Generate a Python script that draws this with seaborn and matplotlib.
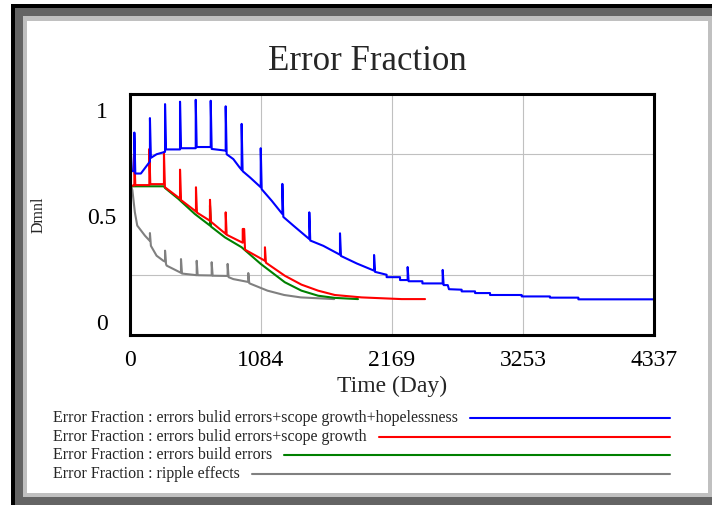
import matplotlib
matplotlib.use("Agg")
import matplotlib.pyplot as plt
from matplotlib.patches import Rectangle
from matplotlib.lines import Line2D
from matplotlib.transforms import ScaledTranslation
import pandas as pd
import seaborn as sns

# ---- simulation output (time in days, error fraction in dmnl) ----
t_hope = [0, 8, 16, 36, 36, 44, 90, 120, 165, 165, 173, 220, 290, 290, 298,
          414, 414, 422, 544, 544, 552, 668, 668, 676, 792, 792, 800, 855,
          906, 924, 924, 932, 993, 1082, 1082, 1090, 1173, 1261, 1261, 1269,
          1352, 1484, 1484, 1492, 1600, 1738, 1738, 1746, 1876, 2020, 2020,
          2028, 2124, 2124, 2235, 2235, 2298, 2298, 2306, 2420, 2420, 2588,
          2588, 2596, 2630, 2640, 2745, 2745, 2856, 2856, 2980, 2980, 3242,
          3242, 3476, 3476, 3711, 3711, 4337]
v_hope = [0.38, 0.75, 0.68, 0.68, 0.84, 0.67, 0.67, 0.69, 0.72, 0.90, 0.735,
          0.75, 0.76, 0.958, 0.77, 0.77, 0.968, 0.775, 0.775, 0.976, 0.78,
          0.78, 0.972, 0.772, 0.765, 0.949, 0.75, 0.73, 0.696, 0.685, 0.876,
          0.68, 0.654, 0.613, 0.775, 0.605, 0.557, 0.502, 0.627, 0.49, 0.454,
          0.398, 0.509, 0.392, 0.37, 0.333, 0.422, 0.328, 0.297, 0.267, 0.332,
          0.262, 0.25, 0.24, 0.24, 0.228, 0.228, 0.282, 0.223, 0.223, 0.214,
          0.214, 0.27, 0.207, 0.207, 0.19, 0.188, 0.181, 0.181, 0.174, 0.174,
          0.166, 0.166, 0.16, 0.16, 0.155, 0.155, 0.148, 0.148]

t_scope = [0, 8, 28, 36, 36, 44, 160, 160, 168, 281, 281, 289, 400, 414, 414,
           422, 537, 546, 546, 554, 662, 662, 670, 786, 792, 792, 800, 924,
           933, 933, 945, 952, 1117, 1117, 1125, 1281, 1419, 1557, 1695,
           1917, 2248, 2442]
v_scope = [0.36, 0.62, 0.62, 0.62, 0.75, 0.622, 0.622, 0.772, 0.626, 0.626,
           0.758, 0.613, 0.571, 0.567, 0.686, 0.56, 0.516, 0.512, 0.613, 0.508,
           0.474, 0.561, 0.47, 0.422, 0.42, 0.509, 0.416, 0.385, 0.383, 0.44,
           0.44, 0.354, 0.308, 0.364, 0.30, 0.246, 0.209, 0.184, 0.166, 0.156,
           0.149, 0.149]

t_build = [0, 8, 20, 281, 290, 400, 537, 662, 662, 670, 786, 924, 1082, 1281,
           1419, 1557, 1695, 1887]
v_build = [0.36, 0.62, 0.617, 0.617, 0.61, 0.565, 0.502, 0.454, 0.537, 0.45,
           0.405, 0.364, 0.295, 0.219, 0.184, 0.163, 0.154, 0.149]

t_ripple = [0, 8, 20, 40, 60, 124, 165, 165, 173, 220, 276, 290, 290, 298, 303,
            414, 422, 422, 430, 537, 552, 552, 560, 676, 676, 684, 808, 808,
            816, 855, 979, 979, 987, 1000, 1138, 1276, 1414, 1690]
v_ripple = [0.36, 0.62, 0.60, 0.51, 0.454, 0.412, 0.39, 0.423, 0.37, 0.329,
            0.308, 0.305, 0.35, 0.295, 0.288, 0.26, 0.258, 0.315, 0.255, 0.249,
            0.248, 0.308, 0.248, 0.247, 0.302, 0.246, 0.245, 0.295, 0.24,
            0.232, 0.22, 0.257, 0.215, 0.212, 0.184, 0.166, 0.156, 0.149]

series_names = [
    "Error Fraction : errors bulid errors+scope growth+hopelessness",
    "Error Fraction : errors bulid errors+scope growth",
    "Error Fraction : errors build errors",
    "Error Fraction : ripple effects",
]
series_colors = ["#0000ff", "#ff0000", "#008000", "#808080"]
series_t = [t_hope, t_scope, t_build, t_ripple]
series_v = [v_hope, v_scope, v_build, v_ripple]

x_ticks = [0, 1084, 2169, 3253, 4337]
y_ticks = [0, 0.5, 1]
y_tick_labels = ["0", "0.5", "1"]

frames = []
for name, t, v in zip(series_names, series_t, series_v):
    frames.append(pd.DataFrame({"Time": t, "Value": v, "Run": name}))
df = pd.concat(frames, ignore_index=True)

sns.set_theme(style="white")
plt.rcParams["font.family"] = ["Liberation Serif", "DejaVu Serif"]

W, H = 712, 506
fig = plt.figure(figsize=(W / 100, H / 100), dpi=100, facecolor="white")

# window frame, in pixel coordinates
frame = fig.add_axes([0, 0, 1, 1], zorder=-10)
frame.set_xlim(0, W)
frame.set_ylim(H, 0)
frame.axis("off")
for x0, y0, x1, y1, c in [(11, 5, W, H, "#000000"),
                          (15, 9, W, H, "#646464"),
                          (23, 17, W, 498, "#c0c0c0"),
                          (27, 22, 708, 494, "#ffffff")]:
    frame.add_patch(Rectangle((x0, y0), x1 - x0, y1 - y0, color=c, lw=0))

ax = fig.add_axes([130 / W, 1 - 336 / H, 524 / W, 241 / H])
ax.set_facecolor("white")

# draw runs (bottom to top)
order = [3, 2, 1, 0]
for i in order:
    sub = df[df["Run"] == series_names[i]]
    sns.lineplot(data=sub, x="Time", y="Value", sort=False, estimator=None,
                 color=series_colors[i], lw=1.5, ax=ax, legend=False)

ax.set_xlim(0, 4337)
ax.set_ylim(0, 1)
ax.set_xticks(x_ticks, labels=[str(x) for x in x_ticks])
ax.set_yticks(y_ticks, labels=y_tick_labels)
ax.set_yticks([0.25, 0.5, 0.75], minor=True)
ax.grid(False)
ax.xaxis.grid(True, which="major", color="#c0c0c0", lw=0.8)
ax.yaxis.grid(True, which="minor", color="#c0c0c0", lw=0.8)
ax.set_axisbelow(True)
ax.tick_params(axis="both", which="both", length=0, labelsize=17,
               colors="black")
ax.tick_params(axis="x", pad=10)
ax.tick_params(axis="y", pad=20)
for lbl in ax.get_yticklabels():
    lbl.set_ha("center")
ylbls = ax.get_yticklabels()
ylbls[0].set_transform(ylbls[0].get_transform() +
                       ScaledTranslation(0, 0.14, fig.dpi_scale_trans))
ylbls[-1].set_transform(ylbls[-1].get_transform() +
                        ScaledTranslation(0, -0.15, fig.dpi_scale_trans))
for s in ax.spines.values():
    s.set_color("black")
    s.set_linewidth(2.2)
ax.set_xlabel("")
ax.set_ylabel("")

fig.text(392 / W, 1 - 386 / H, "Time (Day)", ha="center", va="center",
         fontsize=17)
fig.text(39 / W, 1 - 215 / H, "Dmnl", ha="center", va="center",
         rotation=90, fontsize=11.5)
fig.text(367.5 / W, 1 - 62 / H, "Error Fraction", ha="center", va="center",
         fontsize=25)

# legend rows: label then a sample line running to the right edge
fig.canvas.draw()
renderer = fig.canvas.get_renderer()
rows_y = [418, 437, 455, 474]
for name, col, y in zip(series_names, series_colors, rows_y):
    txt = fig.text(53 / W, 1 - y / H, name, ha="left", va="center",
                   fontsize=11.5)
    bb = txt.get_window_extent(renderer)
    x_start = bb.x1 + 12
    frame.add_line(Line2D([x_start, 670], [y + 1, y + 1], color=col, lw=1.5))

fig.savefig("out.png", dpi=100, facecolor="white")
